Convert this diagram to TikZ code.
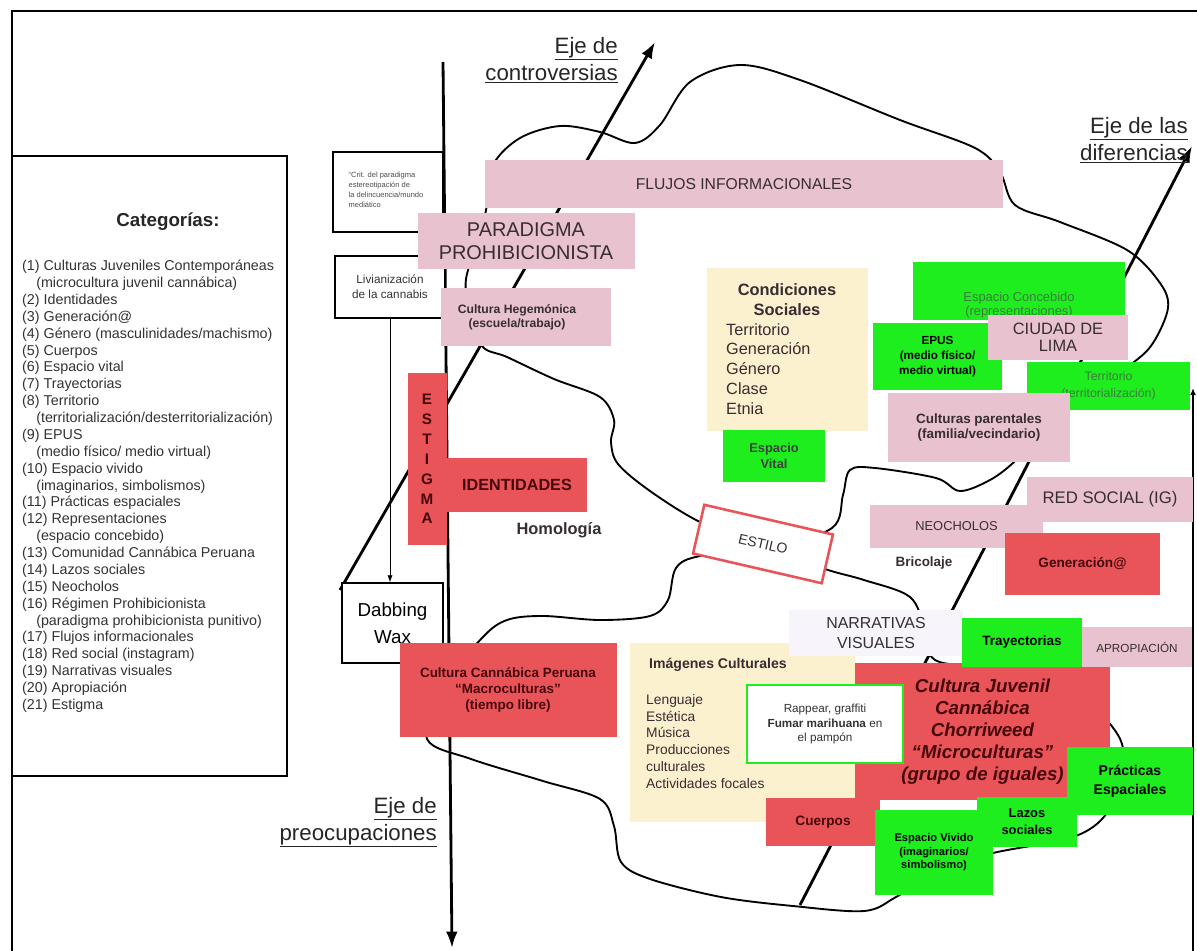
\documentclass[tikz,border=0pt]{standalone}
\usepackage{fontspec}
\setmainfont{Liberation Sans}
\usetikzlibrary{arrows.meta}

\definecolor{rosa}{RGB}{232,194,206}
\definecolor{rojo}{RGB}{233,84,88}
\definecolor{verde}{RGB}{30,238,30}
\definecolor{crema}{RGB}{252,241,206}
\definecolor{lila}{RGB}{247,245,251}
\definecolor{tinta}{RGB}{55,45,50}
\definecolor{granate}{RGB}{70,8,12}
\definecolor{verdetxt}{RGB}{60,125,60}

\newcommand{\fs}[2]{\fontsize{#1pt}{#2pt}\selectfont}

\tikzset{
  sz/.style 2 args={minimum width=#1*0.03cm, minimum height=#2*0.03cm},
  caja/.style={inner sep=0pt, align=center, text=tinta},
  rosabox/.style={caja, fill=rosa},
  rojobox/.style={caja, fill=rojo, text=granate},
  verdebox/.style={caja, fill=verde, text=black},
  cremabox/.style={caja, fill=crema},
  marco/.style={caja, draw=black, line width=1.2pt, fill=white, text=black!80},
  eje/.style={line width=2.4pt, -{Latex[length=14pt,width=10pt]}},
  rotulo/.style={inner sep=0pt, align=right, text=black!85},
  contorno/.style={line width=1.6pt, smooth cycle, tension=0.55},
}

\begin{document}
\begin{tikzpicture}[x=0.03cm, y=-0.03cm]
\useasboundingbox (0,0) rectangle (1197,951);

% marco
\draw[line width=1.4pt] (12,951) -- (12,11) -- (1197,11);

% ejes
\coordinate (preA) at (443,62);
\coordinate (preB) at (452,948);
\draw[eje] (preA) -- (preB);
\coordinate (contA) at (340,590);
\coordinate (contB) at (655,42);
\draw[eje] (contA) -- (contB);
\coordinate (difA) at (800,905);
\coordinate (difB) at (1192,146);
\draw[eje] (difA) -- (difB);
\coordinate (derA) at (1193,951);
\coordinate (derB) at (1193,388);
\draw[line width=1.2pt, -{Latex[length=6pt,width=5pt]}] (derA) -- (derB);

% contorno
\draw[contorno] plot coordinates {
  (493,165) (520,138) (560,126) (600,132) (635,143) (660,125) (690,82)
  (740,65) (800,80) (900,120) (975,148) (1000,172) (1015,205) (1060,222)
  (1127,250) (1160,283) (1168,308) (1153,343) (1130,365) (1070,405)
  (1035,440) (1013,463) (990,480) (960,491) (936,478) (875,468) (850,470)
  (843,495) (832,528) (770,548) (700,556) (676,568) (668,600) (650,616)
  (600,620) (543,616) (507,620) (482,638) (440,690) (427,739) (471,759)
  (543,781) (600,799) (614,826) (621,862) (650,879) (721,897) (793,906)
  (864,911) (896,897) (940,870) (993,853) (1073,837) (1107,813)
  (1123,770) (1118,735) (1080,700) (990,670) (935,660) (925,630)
  (910,597) (864,580) (825,569) (760,545) (700,522) (650,491) (618,464)
  (611,442) (614,420) (600,397) (554,379) (507,357) (482,346) (470,310)
  (466,279) (480,235) (487,205)};

% categorias
\node[marco, sz={275}{620}] (categorias) at (149.5,466) {};
\node[font=\fs{16}{18}\bfseries, text=black!85] (cattit) at (168,222) {Categorías:};
\node[anchor=north west, inner sep=0pt, align=left, font=\fs{12.2}{14.4}, text=black!80] (catlista) at (22,260) {(1) Culturas Juveniles Contemporáneas\\
\hspace*{12pt}(microcultura juvenil cannábica)\\
(2) Identidades\\
(3) Generación@\\
(4) Género (masculinidades/machismo)\\
(5) Cuerpos\\
(6) Espacio vital\\
(7) Trayectorias\\
(8) Territorio\\
\hspace*{12pt}(territorialización/desterritorialización)\\
(9) EPUS\\
\hspace*{12pt}(medio físico/ medio virtual)\\
(10) Espacio vivido\\
\hspace*{12pt}(imaginarios, simbolismos)\\
(11) Prácticas espaciales\\
(12) Representaciones\\
\hspace*{12pt}(espacio concebido)\\
(13) Comunidad Cannábica Peruana\\
(14) Lazos sociales\\
(15) Neocholos\\
(16) Régimen Prohibicionista\\
\hspace*{12pt}(paradigma prohibicionista punitivo)\\
(17) Flujos informacionales\\
(18) Red social (instagram)\\
(19) Narrativas visuales\\
(20) Apropiación\\
(21) Estigma};

% cajas de la izquierda
\node[marco, sz={110}{80}] (critica) at (388,192) {};
\node[font=\fs{6.4}{8.6}, align=left, text=black!70] (criticatxt) at (386,190) {“Crit. del paradigma\\estereotipación de\\la delincuencia/mundo\\mediático};
\node[marco, sz={110}{62}, font=\fs{10}{12.8}] (liviana) at (390,287) {Livianización\\de la cannabis};
\node[marco, sz={101}{80}, font=\fs{16}{23}, text=black] (dabbing) at (392.5,623) {Dabbing\\Wax};
\draw[line width=0.8pt, -{Latex[length=6pt,width=4.5pt]}] (liviana.south) -- (liviana.south |- dabbing.north);

% cajas superiores
\node[rosabox, sz={518}{48}, font=\fs{13.4}{16}] (flujos) at (744,184) {FLUJOS INFORMACIONALES};
\node[rosabox, sz={217}{56}, font=\fs{17}{19.6}] (paradigma) at (526,241) {PARADIGMA\\PROHIBICIONISTA};
\node[rosabox, sz={170}{58}] (hegemonica) at (526,317) {};
\node[text=tinta, align=center, font=\fs{10.4}{12}\bfseries] (hegemonicatxt) at (517,317) {Cultura Hegemónica\\(escuela/trabajo)};

% estigma e identidades
\node[rojobox, sz={39}{172}, font=\fs{13}{17}\bfseries] (estigma) at (427,459) {E\\S\\T\\I\\G\\M\\A};
\node[rojobox, sz={140}{54}, font=\fs{13.8}{16}\bfseries] (identidades) at (517,485) {IDENTIDADES};
\node[text=tinta, font=\fs{14}{16}\bfseries] (homologia) at (559,530) {Homología};
\node[caja, draw=rojo, line width=2.2pt, fill=white, sz={132}{50}, rotate=-13, font=\fs{12}{14}] (estilo) at (763,544) {ESTILO};
\node[rojobox, sz={217}{94}, font=\fs{11.5}{13.7}\bfseries] (peruana) at (508,690) {Cultura Cannábica Peruana\\“Macroculturas”\\(tiempo libre)};

% condiciones sociales
\node[cremabox, sz={161}{163}] (condiciones) at (787.5,349.5) {};
\node[text=tinta, font=\fs{14}{17}\bfseries, align=center] (condtit) at (787,300) {Condiciones\\Sociales};
\node[text=tinta, font=\fs{13.9}{17}, align=left, anchor=north west, inner sep=0pt] (condlista) at (726,323) {Territorio\\Generación\\Género\\Clase\\Etnia};
\node[verdebox, sz={102}{52}, font=\fs{11}{13}\bfseries, text=black!75] (vital) at (774,456) {Espacio\\Vital};

% ciudad
\node[verdebox, sz={212}{58}] (concebido) at (1019,291) {};
\node[text=verdetxt, font=\fs{11}{12.5}, align=center] (concebidotxt) at (1019,305) {Espacio Concebido\\(representaciones)};
\node[verdebox, sz={129}{67}, font=\fs{10}{12.8}\bfseries] (epus) at (937.5,356.5) {EPUS\\(medio físico/\\medio virtual)};
\node[rosabox, sz={140}{45}, font=\fs{14}{14.5}] (lima) at (1058,337.5) {CIUDAD DE\\LIMA};
\node[verdebox, sz={163}{48}, font=\fs{10.5}{15}, text=verdetxt] (territorio) at (1108.5,386) {Territorio\\(territorialización)};
\node[rosabox, sz={182}{69}, font=\fs{11.5}{13}\bfseries] (parentales) at (979,427.5) {Culturas parentales\\(familia/vecindario)};

% red social
\node[rosabox, sz={166}{45}, font=\fs{14.3}{16}] (red) at (1110,499.5) {RED SOCIAL (IG)};
\node[rosabox, sz={173}{43}, font=\fs{11}{13}] (neo) at (956.5,526.5) {NEOCHOLOS};
\node[text=tinta, font=\fs{11.5}{13}\bfseries] (bricolaje) at (924,563) {Bricolaje};
\node[rojobox, sz={155}{62}, font=\fs{11.6}{13}\bfseries] (generacion) at (1082.5,564) {Generación@};

% parte baja
\node[cremabox, sz={225}{179}] (imagenes) at (742.5,732.5) {};
\node[text=tinta, font=\fs{12}{14}\bfseries] (imagtit) at (718,665) {Imágenes Culturales};
\node[text=tinta, font=\fs{11.8}{14.3}, align=left, anchor=north west, inner sep=0pt] (imaglista) at (646,694) {Lenguaje\\Estética\\Música\\Producciones\\culturales\\Actividades focales};
\node[caja, fill=lila, sz={174}{46}, font=\fs{13.6}{17}] (narrativas) at (876,633) {NARRATIVAS\\VISUALES};
\node[rojobox, sz={255}{137}, font=\fs{16}{18.8}\bfseries\itshape] (juvenil) at (982.5,731.5) {Cultura Juvenil\\Cannábica\\Chorriweed\\“Microculturas”\\(grupo de iguales)};
\node[caja, draw=verde, line width=2.2pt, fill=white, sz={156}{78}, font=\fs{10}{12.4}, text=black!80] (rappear) at (825,724) {Rappear, graffiti\\\textbf{Fumar marihuana} en\\el pampón};
\node[verdebox, sz={120}{49}, font=\fs{11.5}{13}\bfseries] (trayectorias) at (1022,642.5) {Trayectorias};
\node[rosabox, sz={110}{40}, font=\fs{10}{12}] (apropiacion) at (1137,647) {APROPIACIÓN};
\node[rojobox, sz={114}{48}, font=\fs{11.6}{13}\bfseries] (cuerpos) at (823,822) {Cuerpos};
\node[verdebox, sz={126}{68}, font=\fs{12}{16}\bfseries] (practicas) at (1130,781) {Prácticas\\Espaciales};
\node[verdebox, sz={100}{50}, font=\fs{11}{14.5}\bfseries] (lazos) at (1027,822) {Lazos\\sociales};
\node[verdebox, sz={118}{85}, font=\fs{9.5}{11.5}\bfseries] (vivido) at (934,852.5) {Espacio Vivido\\(imaginarios/\\simbolismo)};

% rotulos de los ejes
\node[rotulo, anchor=north east, font=\fs{19}{23}] (lcont) at (618,37) {\underline{Eje de}\\\underline{controversias}};
\node[rotulo, anchor=north east, font=\fs{19}{23}] (ldif) at (1188,117) {\underline{Eje de las}\\\underline{diferencias}};
\node[rotulo, anchor=north east, font=\fs{19}{23}] (lpre) at (437,797) {\underline{Eje de}\\\underline{preocupaciones}};
\end{tikzpicture}
\end{document}
